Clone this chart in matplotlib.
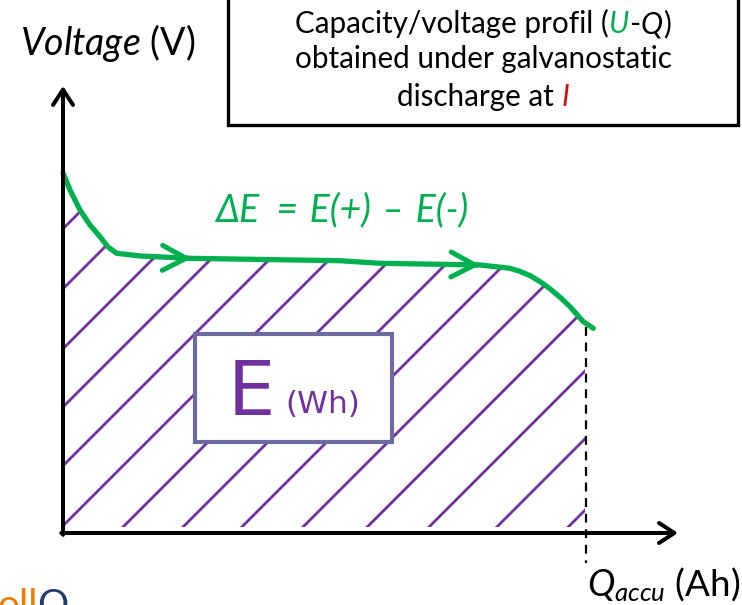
import numpy as np
import matplotlib.pyplot as plt
import matplotlib.patches as patches
from matplotlib.collections import LineCollection

plt.rcParams['font.family'] = ['Lato', 'DejaVu Sans']
plt.rcParams['mathtext.fontset'] = 'custom'
plt.rcParams['mathtext.it'] = 'Lato:italic'
plt.rcParams['mathtext.rm'] = 'Lato'

# discharge profile U(Q), schematic units
curve_q = [0.0, 0.117, 0.283, 0.45, 0.617, 0.75, 0.895, 1.283, 2.117, 4.617,
           5.283, 6.95, 7.45, 7.617, 7.783, 7.95, 8.117, 8.283, 8.45, 8.672, 8.838]
curve_u = [6.0, 5.717, 5.383, 5.133, 4.938, 4.767, 4.662, 4.617, 4.578, 4.538,
           4.495, 4.467, 4.412, 4.36, 4.29, 4.19, 4.07, 3.93, 3.772, 3.522, 3.412]
q_accu = 8.72
arrow_q = [2.14, 6.95]

# hatch lines u = q - c
hatch_c = [-5.07, -4.07, -3.07, -2.1, -1.12, -0.12, 0.9, 1.9, 2.88, 3.9,
           4.97, 6.0, 7.13, 8.32]

green = '#00B050'
purple = '#7030A0'

fig = plt.figure(figsize=(7.42, 6.05), dpi=100)
ax = fig.add_axes([0, 0, 1, 1])
ax.set_xlim(-63 / 60, (742 - 63) / 60)
ax.set_ylim((533 - 605) / 60, 533 / 60)
ax.axis('off')

# hatched area under the curve
u_end = np.interp(q_accu - 0.02, curve_q, curve_u)
poly = [(0.0, 0.1)]
poly += [(q, u) for q, u in zip(curve_q, curve_u) if q < q_accu - 0.02]
poly += [(q_accu - 0.02, u_end), (q_accu - 0.02, 0.1)]
clip = patches.Polygon(poly, closed=True, transform=ax.transData,
                       facecolor='none', edgecolor='none')
segs = [[(c, 0), (c + 12, 12)] for c in hatch_c]
lc = LineCollection(segs, colors=purple, linewidths=2.0, zorder=1)
lc.set_clip_path(clip)
ax.add_collection(lc)

# curve
ax.plot(curve_q, curve_u, color=green, lw=3.8, solid_capstyle='round',
        solid_joinstyle='round', zorder=4)
for q in arrow_q:
    u = np.interp(q, curve_q, curve_u)
    ax.annotate('', xy=(q, u), xytext=(q - 0.06, u + 0.001),
                arrowprops=dict(arrowstyle='->,head_length=0.85,head_width=0.45',
                                color=green, lw=3.6, mutation_scale=20,
                                shrinkA=0, shrinkB=0), zorder=4)

# Q_accu dashed marker
ax.plot([q_accu, q_accu], [np.interp(q_accu, curve_q, curve_u) - 0.05, -0.5],
        color='black', lw=1.6, ls=(0, (4, 3)), zorder=3)

# axes with arrows
arr = dict(arrowstyle='->,head_length=0.55,head_width=0.36', color='black',
           lw=2.9, mutation_scale=20, shrinkA=0, shrinkB=0)
ax.annotate('', xy=(0, 7.45), xytext=(0, -0.03), arrowprops=arr, zorder=5)
ax.annotate('', xy=(10.25, 0), xytext=(-0.03, 0), arrowprops=arr, zorder=5)

# energy box
ax.add_patch(patches.Rectangle((2.2, 1.517), 3.283, 1.8, facecolor='white',
                               edgecolor='#6C6A9E', lw=3, zorder=6))
ax.text(2.75, 1.967, 'E', color=purple, fontsize=54, family='DejaVu Sans',
        va='baseline', zorder=7)
ax.text(3.7, 2.0, '(Wh)', color=purple, fontsize=22.5, family='DejaVu Sans',
        va='baseline', zorder=7)

# info box
ax.add_patch(patches.Rectangle((2.75, 6.8), 8.5, 2.4, facecolor='white',
                               edgecolor='black', lw=2.4, zorder=6))

renderer = fig.canvas.get_renderer()


def rich_line(x, y, pieces, size, ha='center'):
    texts = []
    for s, color, style, gap in pieces:
        t = ax.text(x, y, s, color=color, fontstyle=style, fontsize=size,
                    va='baseline', ha='left', zorder=7)
        texts.append((t, gap))
    gap_px = size * 100 / 72 * 0.25
    widths = [t.get_window_extent(renderer).width + (gap_px if g else 0)
              for t, g in texts]
    x0 = ax.transData.transform((x, y))[0]
    if ha == 'center':
        x0 -= sum(widths) / 2
    inv = ax.transData.inverted()
    for (t, g), w in zip(texts, widths):
        if g:
            x0 += gap_px
            w -= gap_px
        t.set_x(inv.transform((x0, 0))[0])
        x0 += w


box_size = 21.3
rich_line(7.0, 8.328, [('Capacity/voltage profil (', 'black', 'normal', False),
                       ('U', green, 'italic', False),
                       ('-', 'black', 'normal', False),
                       ('Q', 'black', 'italic', False),
                       (')', 'black', 'normal', False)], box_size)
rich_line(7.0, 7.745, [('obtained under galvanostatic', 'black', 'normal', False)],
          box_size)
rich_line(7.0, 7.117, [('discharge at', 'black', 'normal', False),
                       ('I', '#D01010', 'italic', True)], box_size)

ax.text(2.533, 5.188, '\u0394E\u2002=\u2004E(+)\u2004\u2013\u2004E(-)', color=green,
        fontsize=27, fontstyle='italic', va='baseline', zorder=7)

ax.text(-0.717, 7.967, r'$\mathit{Voltage}$ (V)', fontsize=27, va='baseline')
ax.text(8.728, -1.062, r'$\mathit{Q}_{\mathit{accu}}$ (Ah)', fontsize=26.5,
        va='baseline')

# logo fragment at the bottom edge
rich_line(-1.1, -1.4, [('oll', '#F07D00', 'normal', False),
                       ('O', '#1F3A70', 'normal', False)], 28, ha='left')

fig.savefig('out.png', dpi=100)
